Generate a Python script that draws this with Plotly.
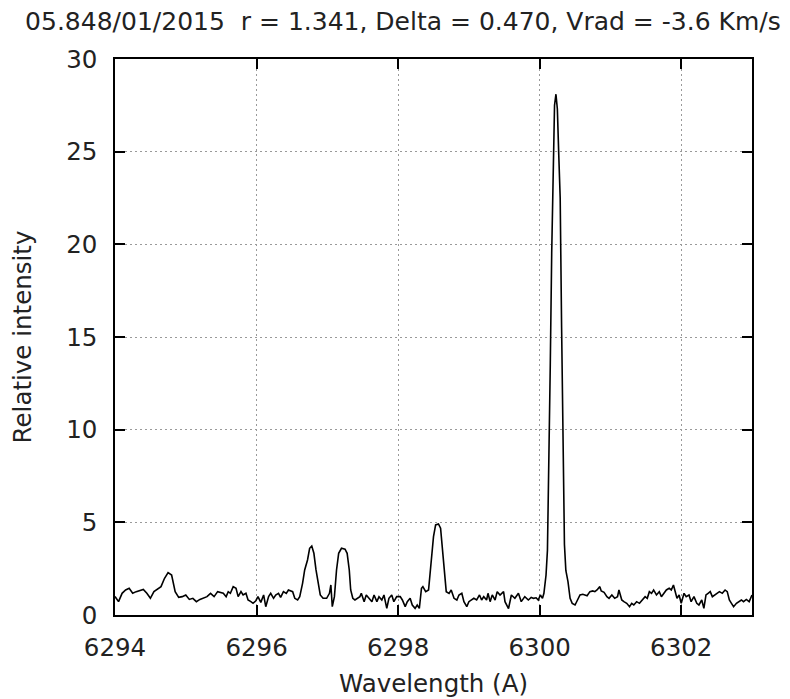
import plotly.graph_objects as go

# Spectrum
wavelength_A = [
    6294.00, 6294.05, 6294.10, 6294.15, 6294.20, 6294.25, 6294.30, 6294.35, 6294.40, 6294.45,
    6294.50, 6294.55, 6294.60, 6294.65, 6294.70, 6294.75, 6294.80, 6294.85, 6294.90, 6294.95,
    6295.00, 6295.05, 6295.10, 6295.15, 6295.20, 6295.25, 6295.30, 6295.35, 6295.40, 6295.45,
    6295.53, 6295.57, 6295.60, 6295.63, 6295.67, 6295.71, 6295.74, 6295.78, 6295.81, 6295.85,
    6295.88, 6295.92, 6295.95, 6295.99, 6296.02, 6296.06, 6296.10, 6296.13, 6296.17, 6296.20,
    6296.24, 6296.27, 6296.31, 6296.34, 6296.38, 6296.42, 6296.45,
    6296.51, 6296.54, 6296.58, 6296.61, 6296.65, 6296.68, 6296.72, 6296.75, 6296.78, 6296.81,
    6296.84, 6296.87, 6296.90, 6296.94, 6296.99, 6297.03, 6297.05, 6297.07, 6297.10, 6297.13,
    6297.16, 6297.20, 6297.25, 6297.28, 6297.31, 6297.33, 6297.36, 6297.39, 6297.42, 6297.46,
    6297.48, 6297.52, 6297.55, 6297.59, 6297.63, 6297.66, 6297.70, 6297.73, 6297.77, 6297.80,
    6297.84, 6297.87, 6297.91, 6297.94, 6297.98,
    6298.03, 6298.06, 6298.10, 6298.13, 6298.17, 6298.20, 6298.24, 6298.27, 6298.30, 6298.33,
    6298.35, 6298.39, 6298.43, 6298.46, 6298.50, 6298.53, 6298.57, 6298.60, 6298.63, 6298.66,
    6298.68, 6298.72, 6298.75, 6298.79, 6298.83, 6298.86, 6298.90, 6298.93, 6298.97, 6299.00,
    6299.04, 6299.07, 6299.11, 6299.15, 6299.18, 6299.21, 6299.25, 6299.27, 6299.30, 6299.33,
    6299.37, 6299.40, 6299.44,
    6299.49, 6299.51, 6299.56, 6299.60, 6299.65, 6299.70, 6299.74, 6299.79, 6299.84,
    6299.88, 6299.91, 6299.95, 6299.98, 6300.01, 6300.04, 6300.06, 6300.09, 6300.11, 6300.13,
    6300.15, 6300.17, 6300.19, 6300.21, 6300.23, 6300.25, 6300.27, 6300.29, 6300.31, 6300.33,
    6300.35, 6300.37, 6300.40, 6300.43, 6300.46, 6300.50, 6300.53, 6300.57, 6300.61, 6300.64,
    6300.67, 6300.71, 6300.75, 6300.78, 6300.81, 6300.85, 6300.87, 6300.91, 6300.95, 6300.98,
    6301.02, 6301.06, 6301.10, 6301.12, 6301.16, 6301.19, 6301.23, 6301.27, 6301.30, 6301.33,
    6301.37, 6301.41,
    6301.45, 6301.49, 6301.52, 6301.55, 6301.58, 6301.61, 6301.65, 6301.69, 6301.72, 6301.75,
    6301.79, 6301.83, 6301.86, 6301.89, 6301.91, 6301.94, 6301.97, 6302.00, 6302.04, 6302.07,
    6302.11, 6302.14, 6302.18, 6302.22, 6302.25, 6302.29, 6302.32, 6302.35, 6302.38, 6302.41,
    6302.44, 6302.475, 6302.51, 6302.54, 6302.58, 6302.62, 6302.65, 6302.68, 6302.71, 6302.74,
    6302.78, 6302.82, 6302.85, 6302.88, 6302.92, 6302.96, 6303.00,
]

relative_intensity = [
    1.00, 0.72, 1.17, 1.35, 1.44, 1.17, 1.26, 1.31, 1.38, 1.17,
    0.90, 1.26, 1.38, 1.53, 1.98, 2.29, 2.16, 1.26, 0.95, 0.99,
    1.08, 0.84, 0.90, 0.72, 0.84, 0.90, 0.99, 1.17, 0.99, 1.26,
    1.17, 0.99, 1.26, 1.17, 1.53, 1.44, 0.99, 1.26, 1.08, 1.17,
    0.81, 0.72, 0.63, 0.77, 0.99, 0.68, 1.08, 0.45, 0.99, 1.17,
    0.90, 1.08, 1.17, 0.95, 1.26, 1.17, 1.35,
    1.26, 0.90, 0.81, 0.99, 1.71, 2.43, 2.97, 3.60, 3.72, 3.33,
    2.43, 1.62, 1.08, 0.90, 0.90, 1.17, 1.62, 0.45, 0.99, 2.43,
    3.33, 3.60, 3.55, 3.33, 2.43, 1.35, 0.90, 0.81, 0.90, 0.99,
    1.17, 0.72, 1.08, 0.90, 0.72, 1.08, 0.72, 0.99, 0.81, 1.08,
    0.36, 0.90, 1.08, 0.72, 0.99,
    0.99, 0.81, 0.45, 0.72, 0.90, 0.54, 0.36, 0.54, 0.36, 1.44,
    1.53, 1.26, 1.35, 2.79, 4.23, 4.86, 4.91, 4.68, 3.33, 1.89,
    1.26, 1.17, 1.35, 0.90, 0.81, 1.08, 1.17, 0.72, 0.45, 0.72,
    0.81, 0.90, 0.81, 1.08, 0.81, 0.99, 0.81, 1.17, 0.72, 1.08,
    0.81, 1.26, 1.08,
    1.26, 0.72, 0.35, 1.08, 0.90, 1.17, 0.72, 0.99, 0.81,
    0.95, 0.90, 0.93, 0.81, 1.08, 0.90, 1.17, 2.16, 3.50, 7.50,
    13.5, 19.5, 24.5, 27.5, 28.1, 27.3, 24.8, 22.5, 15.5, 8.0,
    3.8, 2.4, 1.80, 0.90, 0.63, 0.54, 0.81, 1.08, 1.12, 1.08,
    1.04, 1.26, 1.30, 1.26, 1.35, 1.53, 1.30, 1.22, 0.99, 0.90,
    1.08, 0.90, 0.99, 1.35, 0.81, 0.72, 0.63, 0.45, 0.63, 0.54,
    0.72, 0.63,
    0.81, 0.99, 0.90, 1.26, 1.17, 1.35, 1.08, 1.26, 0.99, 1.17,
    1.35, 1.44, 1.35, 1.62, 1.26, 0.90, 1.08, 0.63, 1.17, 0.99,
    1.08, 0.72, 0.99, 0.63, 0.54, 0.81, 0.36, 1.08, 1.17, 1.26,
    0.99, 1.08, 1.17, 1.26, 1.17, 1.35, 1.26, 0.81, 0.63, 0.45,
    0.63, 0.72, 0.81, 0.72, 0.84, 0.72, 1.08,
]

x_ticks = [6294, 6296, 6298, 6300, 6302]
y_ticks = [0, 5, 10, 15, 20, 25, 30]

title_text = "05.848/01/2015  r = 1.341, Delta = 0.470, Vrad = -3.6 Km/s"
FONT = "DejaVu Sans"
TXT = "#222222"
FS = 24.5

fig = go.Figure()
fig.add_trace(go.Scatter(
    x=wavelength_A, y=relative_intensity, mode="lines",
    line=dict(color="black", width=1.6), showlegend=False,
))

axis_common = dict(
    showline=True, linecolor="black", linewidth=1.5, mirror="ticks",
    ticks="inside", ticklen=10, tickwidth=1.5, tickcolor="black",
    showgrid=True, gridcolor="#9a9a9a", gridwidth=1, griddash="2px,3px",
    zeroline=False, tickfont=dict(family=FONT, size=FS, color=TXT),
)

fig.update_xaxes(
    range=[6294, 6303], tickvals=x_ticks, ticktext=[str(v) for v in x_ticks],
    title=dict(text="Wavelength (A)", font=dict(family=FONT, size=FS, color=TXT), standoff=14),
    ticklabelstandoff=10,
    **axis_common,
)
fig.update_yaxes(
    range=[0, 30], tickvals=y_ticks, ticktext=[str(v) for v in y_ticks],
    title=dict(text="Relative intensity", font=dict(family=FONT, size=FS, color=TXT), standoff=34),
    ticklabelstandoff=11,
    **axis_common,
)

# the page body adds an 8 px offset, so the figure is sized to fit the window
fig.update_layout(
    width=782, height=691,
    margin=dict(l=107, r=38, t=51, b=84, autoexpand=False),
    paper_bgcolor="white", plot_bgcolor="white",
    title=dict(text=title_text, x=0.505, xref="container", xanchor="center",
               y=0.981, yref="container", yanchor="middle",
               font=dict(family=FONT, size=25, color=TXT)),
)

fig.write_html("out.html")
